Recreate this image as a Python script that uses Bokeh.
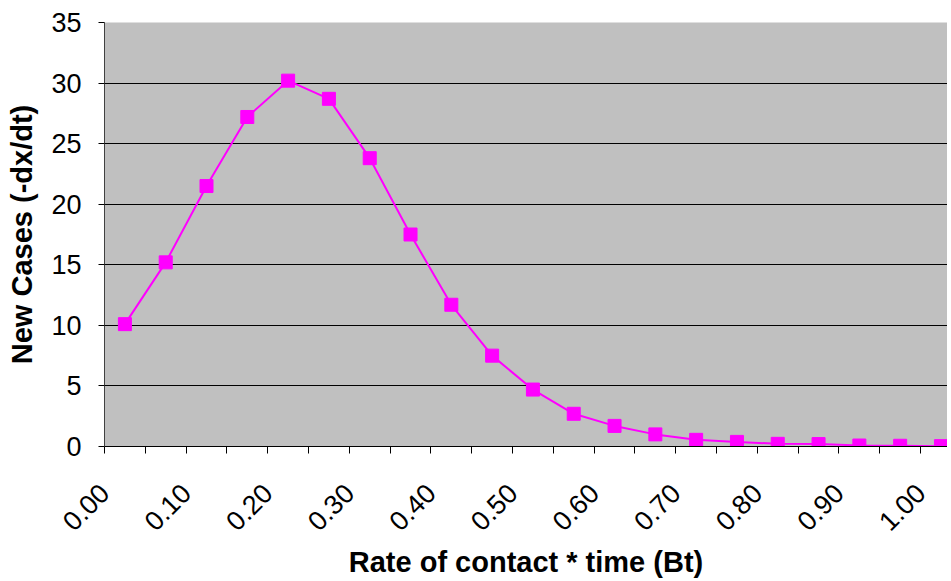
from bokeh.plotting import figure
from bokeh.models import FixedTicker, Range1d, ColumnDataSource
from bokeh.embed import file_html
from bokeh.resources import INLINE
import math

# ---- data ----
categories = ["0.00", "0.05", "0.10", "0.15", "0.20", "0.25", "0.30", "0.35", "0.40", "0.45",
              "0.50", "0.55", "0.60", "0.65", "0.70", "0.75", "0.80", "0.85", "0.90", "0.95", "1.00"]
new_cases = [10.1, 15.2, 21.5, 27.2, 30.2, 28.7, 23.8, 17.5, 11.7, 7.5,
             4.7, 2.7, 1.7, 1.0, 0.55, 0.38, 0.22, 0.2, 0.08, 0.06, 0.03]
y_ticks = [0, 5, 10, 15, 20, 25, 30, 35]
x_title = "Rate of contact * time (Bt)"
y_title = "New Cases (-dx/dt)"

FONT = "Liberation Sans"
MAGENTA = "#FF00FF"

idx = list(range(len(categories)))
src = ColumnDataSource(dict(x=idx, y=new_cases, cat=categories))

p = figure(frame_width=843, frame_height=424,
           output_backend="svg", toolbar_location=None,
           x_range=Range1d(-0.5, 20.16), y_range=Range1d(0, 35))
p.min_border_left = 104
p.min_border_top = 22
p.min_border_right = 0
p.min_border_bottom = 0
p.background_fill_color = "#C0C0C0"
p.border_fill_color = "white"
p.outline_line_color = None

p.line("x", "y", source=src, line_color=MAGENTA, line_width=2)
p.scatter("x", "y", source=src, marker="square", size=13,
          fill_color=MAGENTA, line_color=MAGENTA)

# x axis: tick marks between categories, label every second category
tick_pos = [i - 0.5 for i in range(len(categories) + 1)]
overrides = {}
for i in range(len(categories) + 1):
    overrides[i - 0.5] = categories[i] if (i % 2 == 0 and i < len(categories)) else ""
xa = p.xaxis[0]
xa.ticker = FixedTicker(ticks=tick_pos)
xa.major_label_overrides = overrides
xa.major_label_orientation = math.pi / 4
xa.major_label_text_font = FONT
xa.major_label_text_font_size = "27px"
xa.major_label_text_color = "black"
xa.major_label_standoff = 35
xa.major_tick_out = 7
xa.major_tick_in = 0
xa.minor_tick_line_color = None
xa.axis_line_color = "black"
xa.major_tick_line_color = "black"
xa.axis_label = x_title
xa.axis_label_text_font = FONT
xa.axis_label_text_font_style = "bold"
xa.axis_label_text_font_size = "29px"
xa.axis_label_text_color = "black"
xa.axis_label_standoff = 4

ya = p.yaxis[0]
ya.ticker = FixedTicker(ticks=y_ticks)
ya.major_label_text_font = FONT
ya.major_label_text_font_size = "27px"
ya.major_label_text_color = "black"
ya.major_label_standoff = 17
ya.major_tick_out = 6
ya.major_tick_in = 0
ya.minor_tick_line_color = None
ya.axis_line_color = "#404040"
ya.major_tick_line_color = "black"
ya.axis_label = y_title
ya.axis_label_text_font = FONT
ya.axis_label_text_font_style = "bold"
ya.axis_label_text_font_size = "29px"
ya.axis_label_text_color = "black"
ya.axis_label_standoff = 10

p.xgrid.grid_line_color = None
p.ygrid.ticker = FixedTicker(ticks=y_ticks)
p.ygrid.grid_line_color = "black"
p.ygrid.grid_line_width = 1

open("out.html", "w").write(file_html(p, INLINE))
